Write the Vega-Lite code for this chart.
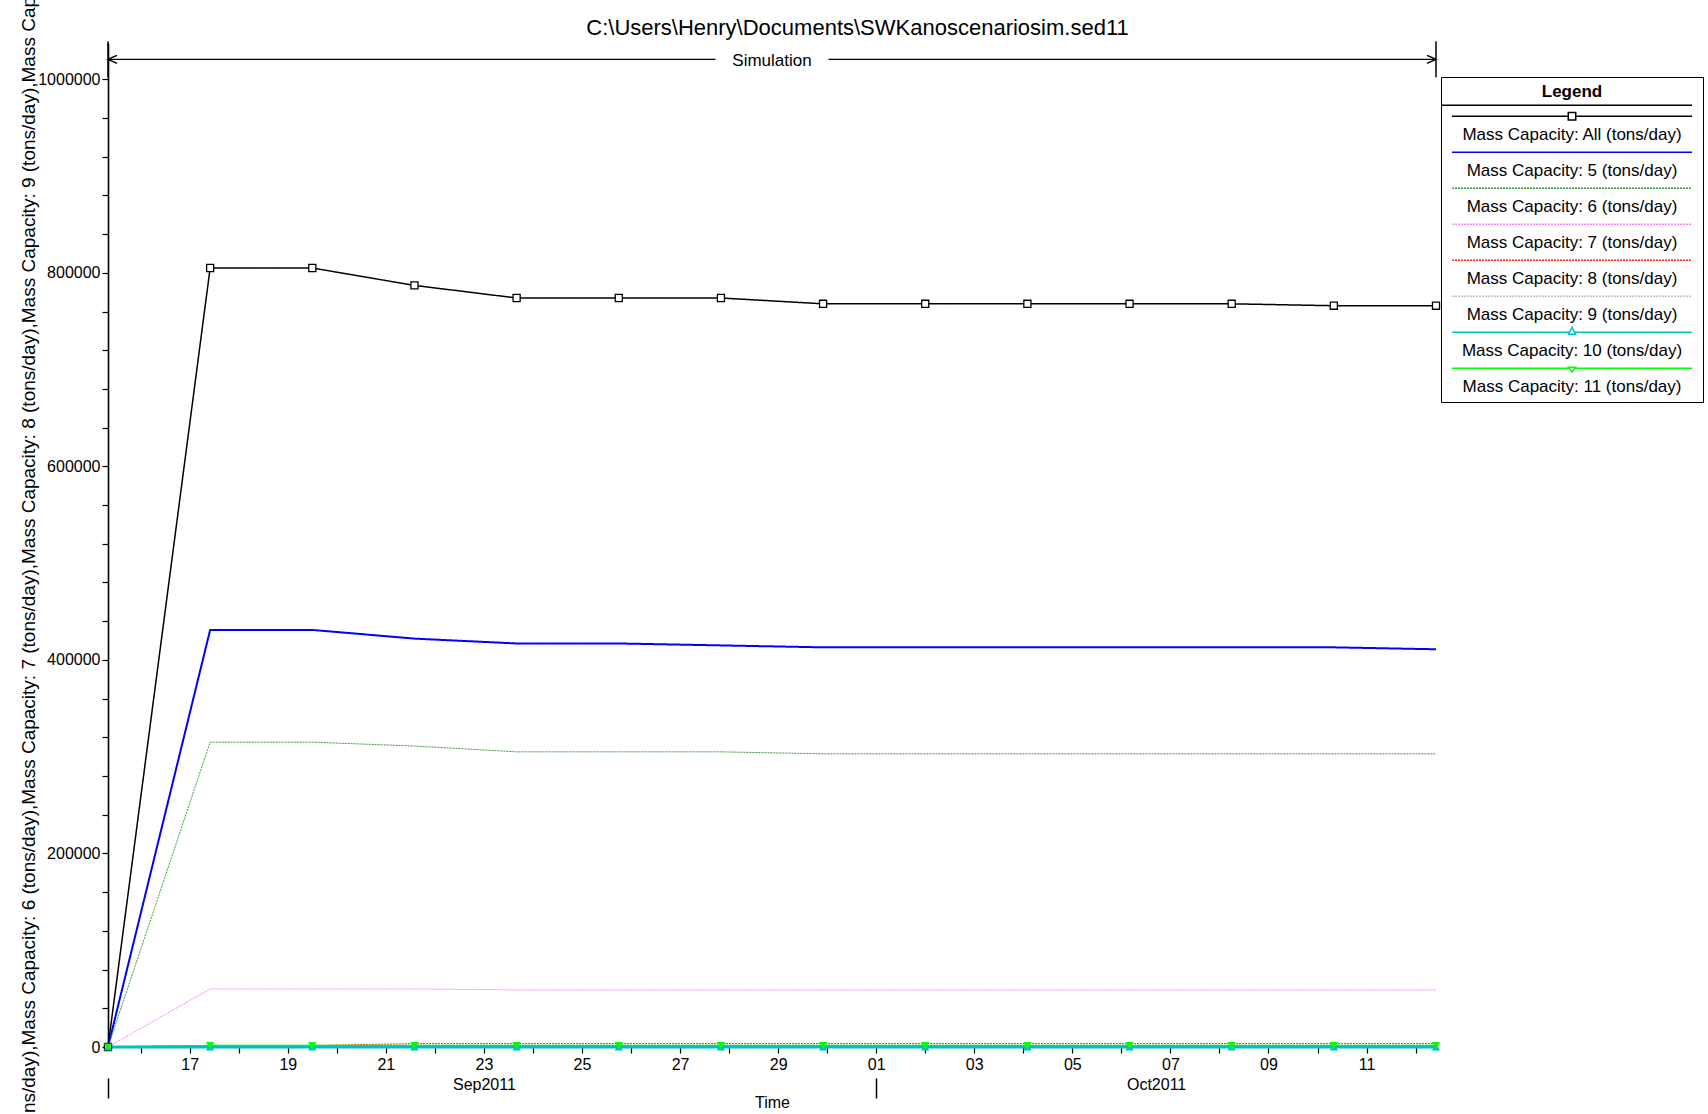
{
  "$schema": "https://vega.github.io/schema/vega-lite/v6.json",
  "autosize": {"type": "none"},
  "width": 1328,
  "height": 1004,
  "padding": {"left": 108, "top": 43, "right": 272, "bottom": 67},
  "background": "white",
  "config": {
    "view": {"stroke": null},
    "font": "Liberation Sans",
    "axis": {"labelFont": "Liberation Sans", "titleFont": "Liberation Sans", "grid": false},
    "legend": {"labelFont": "Liberation Sans", "titleFont": "Liberation Sans"}
  },
  "datasets": {
    "capacity": [
      {"series": "All", "date": "2011-09-15T08:00", "value": 0},
      {"series": "All", "date": "2011-09-17T10:00", "value": 805000},
      {"series": "All", "date": "2011-09-19T12:00", "value": 805000},
      {"series": "All", "date": "2011-09-21T14:00", "value": 787000},
      {"series": "All", "date": "2011-09-23T16:00", "value": 774000},
      {"series": "All", "date": "2011-09-25T18:00", "value": 774000},
      {"series": "All", "date": "2011-09-27T20:00", "value": 774000},
      {"series": "All", "date": "2011-09-29T22:00", "value": 768000},
      {"series": "All", "date": "2011-10-02T00:00", "value": 768000},
      {"series": "All", "date": "2011-10-04T02:00", "value": 768000},
      {"series": "All", "date": "2011-10-06T04:00", "value": 768000},
      {"series": "All", "date": "2011-10-08T06:00", "value": 768000},
      {"series": "All", "date": "2011-10-10T08:00", "value": 766000},
      {"series": "All", "date": "2011-10-12T10:00", "value": 766000},
      {"series": "5", "date": "2011-09-15T08:00", "value": 0},
      {"series": "5", "date": "2011-09-17T10:00", "value": 431000},
      {"series": "5", "date": "2011-09-19T12:00", "value": 431000},
      {"series": "5", "date": "2011-09-21T14:00", "value": 422000},
      {"series": "5", "date": "2011-09-23T16:00", "value": 417000},
      {"series": "5", "date": "2011-09-25T18:00", "value": 417000},
      {"series": "5", "date": "2011-09-27T20:00", "value": 415000},
      {"series": "5", "date": "2011-09-29T22:00", "value": 413000},
      {"series": "5", "date": "2011-10-02T00:00", "value": 413000},
      {"series": "5", "date": "2011-10-04T02:00", "value": 413000},
      {"series": "5", "date": "2011-10-06T04:00", "value": 413000},
      {"series": "5", "date": "2011-10-08T06:00", "value": 413000},
      {"series": "5", "date": "2011-10-10T08:00", "value": 413000},
      {"series": "5", "date": "2011-10-12T10:00", "value": 411000},
      {"series": "6", "date": "2011-09-15T08:00", "value": 0},
      {"series": "6", "date": "2011-09-17T10:00", "value": 315000},
      {"series": "6", "date": "2011-09-19T12:00", "value": 315000},
      {"series": "6", "date": "2011-09-21T14:00", "value": 311000},
      {"series": "6", "date": "2011-09-23T16:00", "value": 305000},
      {"series": "6", "date": "2011-09-25T18:00", "value": 305000},
      {"series": "6", "date": "2011-09-27T20:00", "value": 305000},
      {"series": "6", "date": "2011-09-29T22:00", "value": 303000},
      {"series": "6", "date": "2011-10-02T00:00", "value": 303000},
      {"series": "6", "date": "2011-10-04T02:00", "value": 303000},
      {"series": "6", "date": "2011-10-06T04:00", "value": 303000},
      {"series": "6", "date": "2011-10-08T06:00", "value": 303000},
      {"series": "6", "date": "2011-10-10T08:00", "value": 303000},
      {"series": "6", "date": "2011-10-12T10:00", "value": 303000},
      {"series": "7", "date": "2011-09-15T08:00", "value": 0},
      {"series": "7", "date": "2011-09-17T10:00", "value": 60000},
      {"series": "7", "date": "2011-09-19T12:00", "value": 60000},
      {"series": "7", "date": "2011-09-21T14:00", "value": 60000},
      {"series": "7", "date": "2011-09-23T16:00", "value": 59000},
      {"series": "7", "date": "2011-09-25T18:00", "value": 59000},
      {"series": "7", "date": "2011-09-27T20:00", "value": 59000},
      {"series": "7", "date": "2011-09-29T22:00", "value": 59000},
      {"series": "7", "date": "2011-10-02T00:00", "value": 59000},
      {"series": "7", "date": "2011-10-04T02:00", "value": 59000},
      {"series": "7", "date": "2011-10-06T04:00", "value": 59000},
      {"series": "7", "date": "2011-10-08T06:00", "value": 59000},
      {"series": "7", "date": "2011-10-10T08:00", "value": 59000},
      {"series": "7", "date": "2011-10-12T10:00", "value": 59000},
      {"series": "9", "date": "2011-09-15T08:00", "value": 0},
      {"series": "9", "date": "2011-09-17T10:00", "value": 800},
      {"series": "9", "date": "2011-09-19T12:00", "value": 800},
      {"series": "9", "date": "2011-09-21T14:00", "value": 800},
      {"series": "9", "date": "2011-09-23T16:00", "value": 800},
      {"series": "9", "date": "2011-09-25T18:00", "value": 800},
      {"series": "9", "date": "2011-09-27T20:00", "value": 800},
      {"series": "9", "date": "2011-09-29T22:00", "value": 800},
      {"series": "9", "date": "2011-10-02T00:00", "value": 800},
      {"series": "9", "date": "2011-10-04T02:00", "value": 800},
      {"series": "9", "date": "2011-10-06T04:00", "value": 800},
      {"series": "9", "date": "2011-10-08T06:00", "value": 800},
      {"series": "9", "date": "2011-10-10T08:00", "value": 800},
      {"series": "9", "date": "2011-10-12T10:00", "value": 800},
      {"series": "8", "date": "2011-09-15T08:00", "value": 0},
      {"series": "8", "date": "2011-09-17T10:00", "value": 1500},
      {"series": "8", "date": "2011-09-19T12:00", "value": 1500},
      {"series": "8", "date": "2011-09-21T14:00", "value": 3500},
      {"series": "8", "date": "2011-09-23T16:00", "value": 3500},
      {"series": "8", "date": "2011-09-25T18:00", "value": 3500},
      {"series": "8", "date": "2011-09-27T20:00", "value": 3500},
      {"series": "8", "date": "2011-09-29T22:00", "value": 3500},
      {"series": "8", "date": "2011-10-02T00:00", "value": 3500},
      {"series": "8", "date": "2011-10-04T02:00", "value": 3500},
      {"series": "8", "date": "2011-10-06T04:00", "value": 3500},
      {"series": "8", "date": "2011-10-08T06:00", "value": 3500},
      {"series": "8", "date": "2011-10-10T08:00", "value": 3500},
      {"series": "8", "date": "2011-10-12T10:00", "value": 3500},
      {"series": "11", "date": "2011-09-15T08:00", "value": 0},
      {"series": "11", "date": "2011-09-17T10:00", "value": 1500},
      {"series": "11", "date": "2011-09-19T12:00", "value": 1500},
      {"series": "11", "date": "2011-09-21T14:00", "value": 1500},
      {"series": "11", "date": "2011-09-23T16:00", "value": 1500},
      {"series": "11", "date": "2011-09-25T18:00", "value": 1500},
      {"series": "11", "date": "2011-09-27T20:00", "value": 1500},
      {"series": "11", "date": "2011-09-29T22:00", "value": 1500},
      {"series": "11", "date": "2011-10-02T00:00", "value": 1500},
      {"series": "11", "date": "2011-10-04T02:00", "value": 1500},
      {"series": "11", "date": "2011-10-06T04:00", "value": 1500},
      {"series": "11", "date": "2011-10-08T06:00", "value": 1500},
      {"series": "11", "date": "2011-10-10T08:00", "value": 1500},
      {"series": "11", "date": "2011-10-12T10:00", "value": 1500},
      {"series": "10", "date": "2011-09-15T08:00", "value": 0},
      {"series": "10", "date": "2011-09-17T10:00", "value": 0},
      {"series": "10", "date": "2011-09-19T12:00", "value": 0},
      {"series": "10", "date": "2011-09-21T14:00", "value": 0},
      {"series": "10", "date": "2011-09-23T16:00", "value": 0},
      {"series": "10", "date": "2011-09-25T18:00", "value": 0},
      {"series": "10", "date": "2011-09-27T20:00", "value": 0},
      {"series": "10", "date": "2011-09-29T22:00", "value": 0},
      {"series": "10", "date": "2011-10-02T00:00", "value": 0},
      {"series": "10", "date": "2011-10-04T02:00", "value": 0},
      {"series": "10", "date": "2011-10-06T04:00", "value": 0},
      {"series": "10", "date": "2011-10-08T06:00", "value": 0},
      {"series": "10", "date": "2011-10-10T08:00", "value": 0},
      {"series": "10", "date": "2011-10-12T10:00", "value": 0}
    ],
    "runs": [
      {"run": "Simulation", "start": "2011-09-15T08:00", "end": "2011-10-12T10:00"}
    ]
  },
  "resolve": {"axis": {"x": "independent", "y": "independent"}},
  "layer": [
    {
      "data": {"name": "runs"},
      "mark": {"type": "rule", "color": "black", "strokeWidth": 1.3},
      "encoding": {
        "x": {"field": "start", "type": "temporal", "axis": null},
        "x2": {"field": "end"},
        "y": {"datum": 1020600, "type": "quantitative", "axis": null}
      }
    },
    {
      "data": {"name": "runs"},
      "mark": {"type": "point", "shape": "M0,-1.8V1.8M0.9,-0.4L0,0L0.9,0.4", "size": 400, "filled": false, "stroke": "black", "strokeWidth": 1.5, "opacity": 1},
      "encoding": {
        "x": {"field": "start", "type": "temporal", "axis": null},
        "y": {"datum": 1020600, "type": "quantitative", "axis": null}
      }
    },
    {
      "data": {"name": "runs"},
      "mark": {"type": "point", "shape": "M0,-1.8V1.8M-0.9,-0.4L0,0L-0.9,0.4", "size": 400, "filled": false, "stroke": "black", "strokeWidth": 1.5, "opacity": 1},
      "encoding": {
        "x": {"field": "end", "type": "temporal", "axis": null},
        "y": {"datum": 1020600, "type": "quantitative", "axis": null}
      }
    },
    {
      "data": {"name": "runs"},
      "mark": {"type": "point", "shape": "M-1,-0.14H1V0.14H-1Z", "size": 12769, "filled": true, "color": "white", "strokeWidth": 0, "opacity": 1},
      "encoding": {
        "x": {"datum": {"year": 2011, "month": 9, "date": 28, "hours": 21}, "type": "temporal", "axis": null},
        "y": {"datum": 1020600, "type": "quantitative", "axis": null}
      }
    },
    {
      "data": {"name": "runs"},
      "mark": {"type": "text", "fontSize": 17, "color": "black", "align": "center", "baseline": "middle", "dy": 2},
      "encoding": {
        "x": {"datum": {"year": 2011, "month": 9, "date": 28, "hours": 21}, "type": "temporal", "axis": null},
        "y": {"datum": 1020600, "type": "quantitative", "axis": null},
        "text": {"field": "run"}
      }
    },
    {
      "data": {"name": "capacity"},
      "mark": {"type": "line", "interpolate": "linear"},
      "encoding": {
        "x": {
          "field": "date",
          "type": "temporal",
          "scale": {"domain": [{"year": 2011, "month": 9, "date": 15, "hours": 8}, {"year": 2011, "month": 10, "date": 12, "hours": 10}], "nice": false},
          "axis": {
            "orient": "bottom",
            "title": null,
            "tickCount": {"interval": "day", "step": 1},
            "labelExpr": "date(datum.value) % 2 === 1 ? timeFormat(datum.value, '%d') : ''",
            "labelOverlap": false,
            "labelFlush": false,
            "labelFontSize": 16,
            "labelColor": "black",
            "labelPadding": 3,
            "tickSize": 6,
            "tickColor": "black",
            "tickWidth": 1.2,
            "domainColor": "black",
            "domainWidth": 1,
            "grid": false
          }
        },
        "y": {
          "field": "value",
          "type": "quantitative",
          "scale": {"domain": [0, 1037500], "nice": false, "zero": false},
          "axis": {
            "orient": "left",
            "values": [0, 40000, 80000, 120000, 160000, 200000, 240000, 280000, 320000, 360000, 400000, 440000, 480000, 520000, 560000, 600000, 640000, 680000, 720000, 760000, 800000, 840000, 880000, 920000, 960000, 1000000],
            "format": "d",
            "labelExpr": "datum.value % 200000 === 0 ? datum.label : ''",
            "labelOverlap": false,
            "labelFlush": false,
            "labelFontSize": 16,
            "labelColor": "black",
            "labelPadding": 2,
            "tickSize": 6,
            "tickColor": "black",
            "tickWidth": 1.2,
            "domainColor": "black",
            "domainWidth": 1.6,
            "grid": false,
            "title": "Mass Capacity: All (tons/day),Mass Capacity: 5 (tons/day),Mass Capacity: 6 (tons/day),Mass Capacity: 7 (tons/day),Mass Capacity: 8 (tons/day),Mass Capacity: 9 (tons/day),Mass Capacity: 10 (tons/day),Mass Capacity: 11 (tons/day)",
            "titleFontSize": 19,
            "titleFontWeight": "normal",
            "titleColor": "black",
            "titleLimit": 5000,
            "titleAngle": 270,
            "titleAlign": "center",
            "titleBaseline": "alphabetic",
            "titleX": -74,
            "titleY": 518
          }
        },
        "color": {
          "field": "series",
          "type": "nominal",
          "scale": {
            "domain": ["All", "5", "6", "7", "8", "9", "10", "11"],
            "range": ["#000000", "#0000ff", "#3d9a3d", "#ff80ff", "#ff2020", "#c0c0c0", "#00c0c0", "#00ff00"]
          },
          "legend": {
            "orient": "none",
            "legendX": 1333,
            "legendY": 34,
            "title": "Legend",
            "titleFontSize": 17,
            "titleFontWeight": "bold",
            "titleColor": "black",
            "titleAnchor": "middle",
            "titleAlign": "center",
            "titlePadding": 5.7,
            "padding": 7,
            "strokeColor": "black",
            "fillColor": "white",
            "symbolSize": 2970.25,
            "symbolOffset": 96,
            "symbolStrokeWidth": 1.5,
            "labelOffset": -28,
            "labelAlign": "center",
            "labelFontSize": 17,
            "labelColor": "black",
            "labelLimit": 300,
            "rowPadding": 0,
            "labelExpr": "'Mass Capacity: ' + datum.label + ' (tons/day)'",
            "encode": {
              "symbols": {
                "update": {
                  "shape": {"signal": "['M-4.807,-1.083H4.404M-4.404,-0.679H-0.138M0.138,-0.679H4.404M-0.138,-0.817H0.138V-0.541H-0.138Z', 'M-4.404,-0.679H4.404', 'M-4.404,-0.679H4.404', 'M-4.404,-0.679H4.404', 'M-4.404,-0.679H4.404', 'M-4.404,-0.679H4.404', 'M-4.404,-0.679H-0.11M0.11,-0.679H4.404M0,-0.862L0.128,-0.606H-0.128Z', 'M-4.404,-0.679H-0.11M0.11,-0.679H4.404M-0.128,-0.716H0.128L0,-0.532Z'][datum.index]"},
                  "fill": {"value": "white"},
                  "strokeWidth": {"value": 1.5},
                  "strokeDash": {"signal": "datum.index >= 2 && datum.index <= 5 ? [2, 1] : [1, 0]"},
                  "opacity": {"value": 1}
                }
              }
            }
          }
        },
        "strokeWidth": {
          "condition": [
            {"test": "datum.series === 'All'", "value": 1.5},
            {"test": "datum.series === '5'", "value": 2},
            {"test": "datum.series === '10'", "value": 3},
            {"test": "datum.series === '11'", "value": 1.5}
          ],
          "value": 1
        },
        "strokeDash": {
          "condition": {"test": "indexof(['6', '7', '8', '9'], datum.series) >= 0", "value": [2, 1]},
          "value": [1, 0]
        }
      }
    },
    {
      "data": {"name": "capacity"},
      "transform": [{"filter": "datum.series === 'All'"}],
      "mark": {"type": "point", "shape": "square", "size": 50, "filled": true, "fill": "white", "stroke": "black", "strokeWidth": 1.3, "opacity": 1},
      "encoding": {
        "x": {
          "field": "date",
          "type": "temporal",
          "axis": {
            "orient": "bottom",
            "values": [{"year": 2011, "month": 9, "date": 23}, {"year": 2011, "month": 10, "date": 6, "hours": 17}],
            "labelExpr": "timeFormat(datum.value, '%b%Y')",
            "ticks": false,
            "tickSize": 0,
            "domain": false,
            "grid": false,
            "labelPadding": 29,
            "labelFontSize": 16,
            "labelColor": "black",
            "labelOverlap": false,
            "labelFlush": false,
            "title": "Time",
            "titleFontSize": 16,
            "titleFontWeight": "normal",
            "titleColor": "black",
            "titleY": 55,
            "titleBaseline": "middle"
          }
        },
        "y": {"field": "value", "type": "quantitative", "axis": null}
      }
    },
    {
      "data": {"name": "capacity"},
      "transform": [{"filter": "datum.series === '10'"}],
      "mark": {"type": "point", "shape": "triangle-up", "size": 70, "filled": true, "color": "#00c0c0", "opacity": 1},
      "encoding": {
        "x": {
          "field": "date",
          "type": "temporal",
          "axis": {
            "orient": "bottom",
            "values": [{"year": 2011, "month": 9, "date": 15, "hours": 8}, {"year": 2011, "month": 10, "date": 1}],
            "labels": false,
            "domain": false,
            "grid": false,
            "ticks": true,
            "tickSize": 20,
            "tickWidth": 1.5,
            "tickColor": "black",
            "offset": 31,
            "title": null
          }
        },
        "y": {"field": "value", "type": "quantitative", "axis": null}
      }
    },
    {
      "data": {"name": "capacity"},
      "transform": [{"filter": "datum.series === '11'"}],
      "mark": {"type": "point", "shape": "triangle-down", "size": 70, "filled": true, "color": "#00ff00", "opacity": 1},
      "encoding": {
        "x": {
          "field": "date",
          "type": "temporal",
          "axis": {
            "orient": "top",
            "domain": false,
            "ticks": false,
            "labels": false,
            "grid": false,
            "title": "C:\\Users\\Henry\\Documents\\SWKanoscenariosim.sed11",
            "titleFontSize": 22,
            "titleFontWeight": "normal",
            "titleColor": "black",
            "titleAngle": 0,
            "titleAlign": "center",
            "titleBaseline": "middle",
            "titleX": 749,
            "titleY": -16
          }
        },
        "y": {"field": "value", "type": "quantitative", "axis": null}
      }
    }
  ]
}
